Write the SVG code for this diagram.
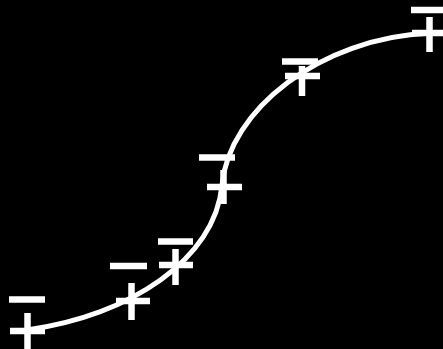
<svg xmlns="http://www.w3.org/2000/svg" width="443" height="349" viewBox="0 0 443 349">
<style>
.bg{fill:#000}
.curve{fill:none;stroke:#fff;stroke-width:5}
.sign line{stroke:#fff;stroke-width:6.5;stroke-linecap:butt}
</style>
<rect class="bg" x="0" y="0" width="443" height="349"/>
<g id="connectors">
<path class="curve" d="M27,330 C130,315 215,260 222,185 C229,110 320,38 430,33"/>
</g>
<g id="node1" class="sign">
<line x1="9" y1="299.5" x2="45" y2="299.5"/>
<line x1="10" y1="331" x2="45" y2="331"/>
<line x1="27.5" y1="313" x2="27.5" y2="350"/>
</g>
<g id="node2" class="sign">
<line x1="110" y1="266" x2="147" y2="266"/>
<line x1="116" y1="301" x2="150" y2="301"/>
<line x1="131.5" y1="283" x2="131.5" y2="320"/>
</g>
<g id="node3" class="sign">
<line x1="158" y1="241.5" x2="193" y2="241.5"/>
<line x1="159" y1="265" x2="193" y2="265"/>
<line x1="175.5" y1="249" x2="175.5" y2="285"/>
</g>
<g id="node4" class="sign">
<line x1="199" y1="157.5" x2="235" y2="157.5"/>
<line x1="207" y1="187" x2="242" y2="187"/>
<line x1="223.5" y1="170" x2="223.5" y2="204"/>
</g>
<g id="node5" class="sign">
<line x1="282" y1="61.5" x2="318" y2="61.5"/>
<line x1="285" y1="76" x2="320" y2="76"/>
<line x1="302" y1="66" x2="302" y2="96"/>
</g>
<g id="node6" class="sign">
<line x1="411" y1="10" x2="447" y2="10"/>
<line x1="412" y1="33" x2="447" y2="33"/>
<line x1="429.5" y1="17" x2="429.5" y2="52"/>
</g>
</svg>
